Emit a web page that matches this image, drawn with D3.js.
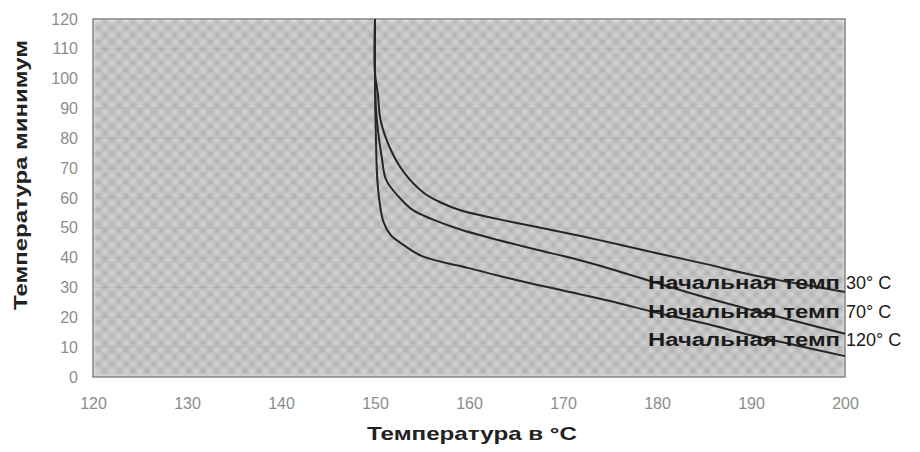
<!DOCTYPE html>
<html><head><meta charset="utf-8">
<script src="https://cdn.jsdelivr.net/npm/d3@7/dist/d3.min.js"></script>
<style>body{margin:0;background:#fff}svg{display:block}</style>
</head><body>
<svg id="c" width="920" height="452"></svg>
<script>
const xTicks = [120,130,140,150,160,170,180,190,200];
const yTicks = [0,10,20,30,40,50,60,70,80,90,100,110,120];
const seriesNames = ["30° C","70° C","120° C"];
const labelPrefix = "Начальная темп";
const curve30 = [[150,120],[150,102],[150.3,95],[150.6,86],[151.7,76],[153.1,68.5],[155.2,61.7],[157,58.5],[159,56],[163,53],[168,49.8],[174,45.8],[180,41.5],[185,38],[190,34.3],[195,31.3],[200,28.5]];
const curve70 = [[150,120],[150,100],[150.1,90],[150.3,83],[150.7,74],[151.2,66],[152.5,60.5],[154,56],[156,53],[159,49.5],[163,46],[167,42.8],[171,39.8],[175,36.3],[180,31.5],[185,26.8],[190,22.5],[195,18.5],[200,14.5]];
const curve120 = [[150,120],[150,100],[150.1,80],[150.3,64],[150.9,52],[151.7,47.5],[152.7,45],[155,40.5],[160,36.5],[165,32.5],[170,29],[175,25.5],[180,21.5],[185,18],[190,14],[195,10.5],[200,7]];
const curves = [curve30, curve70, curve120];
const xTitle = "Температура в °C";
const yTitle = "Температура минимум";

const svg = d3.select("#c");
const x = d3.scaleLinear().domain([120,200]).range([93,845]);
const y = d3.scaleLinear().domain([0,120]).range([377,19]);

const defs = svg.append("defs");
const pat = defs.append("pattern").attr("id","chk").attr("patternUnits","userSpaceOnUse")
  .attr("width",14).attr("height",14);
pat.append("rect").attr("width",14).attr("height",14).attr("fill","#c2c2c2");
[[0,0],[14,0],[0,14],[14,14],[7,7]].forEach(p=>pat.append("circle").attr("cx",p[0]).attr("cy",p[1]).attr("r",4).attr("fill","#a6a6a6"));
[[7,0],[0,7],[14,7],[7,14]].forEach(p=>pat.append("circle").attr("cx",p[0]).attr("cy",p[1]).attr("r",4).attr("fill","#d6d6d6"));
defs.append("filter").attr("id","bl").attr("x",0).attr("y",0).attr("width",1).attr("height",1)
  .append("feGaussianBlur").attr("stdDeviation",2.2);

const x0 = x(120), x1 = x(200), y0 = y(120), y1 = y(0);
svg.append("rect").attr("x",x0).attr("y",y0).attr("width",x1-x0).attr("height",y1-y0)
  .attr("fill","url(#chk)").attr("filter","url(#bl)");

// faint gridlines
svg.append("g").selectAll("line").data(yTicks.slice(1,-1)).join("line")
  .attr("x1",x0).attr("x2",x1).attr("y1",d=>y(d)).attr("y2",d=>y(d))
  .attr("stroke","#8a8a8a").attr("stroke-opacity",0.2).attr("stroke-width",1);

// frame
svg.append("rect").attr("x",x0).attr("y",y0).attr("width",x1-x0).attr("height",y1-y0)
  .attr("fill","none").attr("stroke","#6a6a6a").attr("stroke-width",1.2);

// axes via d3 axis generators
const xAxis = svg.append("g").attr("transform",`translate(0,${y1})`)
  .call(d3.axisBottom(x).tickValues(xTicks).tickSize(0).tickPadding(21).tickFormat(d3.format("d")));
const yAxis = svg.append("g").attr("transform",`translate(${x0},0)`)
  .call(d3.axisLeft(y).tickValues(yTicks).tickSize(0).tickPadding(15).tickFormat(d3.format("d")));
[xAxis,yAxis].forEach(g=>{
  g.select(".domain").remove();
  g.selectAll("text").attr("fill","#8c8c8c").style("font-family","'Liberation Sans', Arial, sans-serif").style("font-size","16px");
});

const line = d3.line().x(d=>x(d[0])).y(d=>y(d[1])).curve(d3.curveCatmullRom.alpha(0.5));
svg.append("g").selectAll("path").data(curves).join("path")
  .attr("d",line).attr("fill","none").attr("stroke","#262626").attr("stroke-width",2);

// labels
const lab = svg.append("g");
seriesNames.forEach((n,i)=>{
  const yy = 289 + i*28.5;
  lab.append("text").attr("x",648).attr("y",yy).text(labelPrefix)
    .attr("textLength",192).attr("lengthAdjust","spacingAndGlyphs")
    .style("font-family","'Liberation Sans', Arial, sans-serif").style("font-weight","bold").style("font-size","18px").attr("fill","#1a1a1a");
  lab.append("text").attr("x",846).attr("y",yy).text(n)
    .style("font-family","'Liberation Sans', Arial, sans-serif").style("font-size","18px").attr("fill","#1a1a1a");
});

svg.append("text").attr("x",472).attr("y",440).attr("text-anchor","middle").text(xTitle)
  .attr("textLength",210).attr("lengthAdjust","spacingAndGlyphs")
  .style("font-family","'Liberation Sans', Arial, sans-serif").style("font-weight","bold").style("font-size","19px").attr("fill","#222");
svg.append("text").attr("transform","translate(27,175) rotate(-90)").attr("text-anchor","middle").text(yTitle)
  .attr("textLength",270).attr("lengthAdjust","spacingAndGlyphs")
  .style("font-family","'Liberation Sans', Arial, sans-serif").style("font-weight","bold").style("font-size","19px").attr("fill","#222");
</script>
</body></html>
